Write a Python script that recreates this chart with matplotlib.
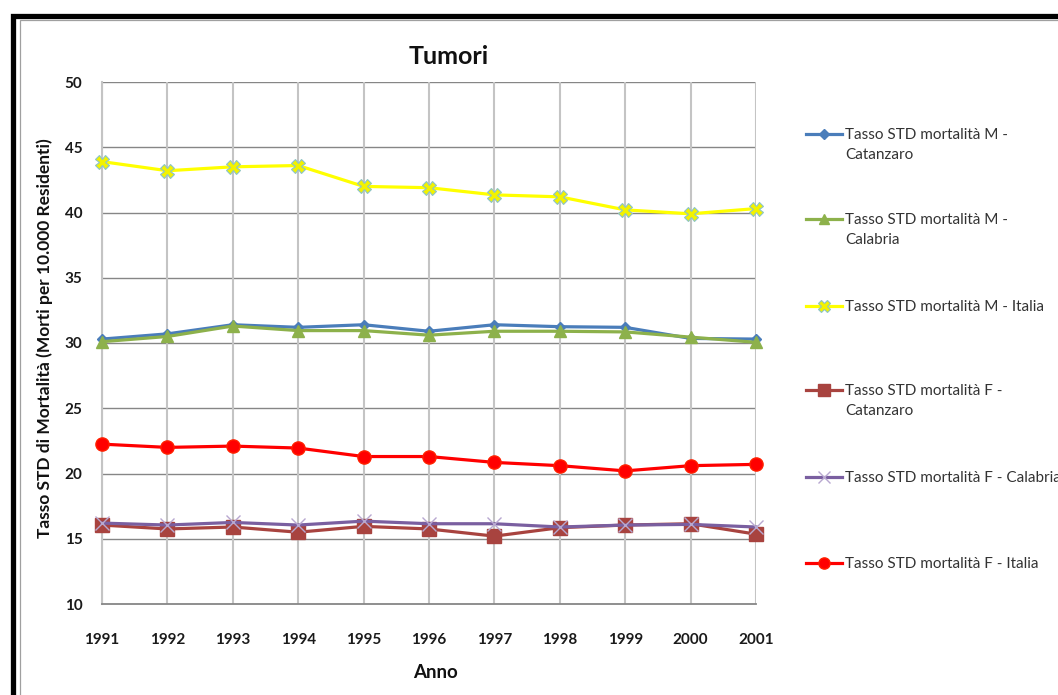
import matplotlib
matplotlib.use("Agg")
import matplotlib.pyplot as plt
from matplotlib.lines import Line2D
from matplotlib.patches import Rectangle

# --- data -------------------------------------------------------------
anni = [1991, 1992, 1993, 1994, 1995, 1996, 1997, 1998, 1999, 2000, 2001]

m_catanzaro = [30.3, 30.7, 31.4, 31.2, 31.4, 30.9, 31.4, 31.25, 31.2, 30.35, 30.3]
m_calabria = [30.1, 30.5, 31.3, 30.95, 30.95, 30.6, 30.9, 30.9, 30.85, 30.45, 30.05]
m_italia = [43.9, 43.2, 43.5, 43.6, 42.0, 41.9, 41.35, 41.2, 40.2, 39.9, 40.3]
f_catanzaro = [16.05, 15.75, 15.9, 15.5, 15.95, 15.75, 15.2, 15.85, 16.05, 16.15, 15.35]
f_calabria = [16.2, 16.05, 16.25, 16.05, 16.35, 16.15, 16.15, 15.9, 16.05, 16.1, 15.9]
f_italia = [22.25, 22.0, 22.1, 21.95, 21.3, 21.3, 20.85, 20.6, 20.2, 20.6, 20.7]

etichette = [
    "Tasso STD mortalità M -\nCatanzaro",
    "Tasso STD mortalità M -\nCalabria",
    "Tasso STD mortalità M - Italia",
    "Tasso STD mortalità F -\nCatanzaro",
    "Tasso STD mortalità F - Calabria",
    "Tasso STD mortalità F - Italia",
]
y_ticks = [10, 15, 20, 25, 30, 35, 40, 45, 50]

# --- styles -----------------------------------------------------------
FONT = ["Lato", "DejaVu Sans"]
plt.rcParams["font.family"] = FONT

stili = [
    dict(color="#4A7DBA", marker="D", ms=5.5, mfc="#4A7DBA", mec="#4A7DBA", lw=2.3),
    dict(color="#8DB14B", marker="^", ms=9, mfc="#8DB14B", mec="#8DB14B", lw=2.3),
    dict(color="#FFFF00", marker="X", ms=10, mfc="#F2F200", mec="#8CC4C8", mew=0.8, lw=2.3),
    dict(color="#A8433F", marker="s", ms=10, mfc="#A8433F", mec="#A8433F", lw=2.3),
    dict(color="#7A5FA0", marker="x", ms=10, mfc="#B8A8D0", mec="#B8A8D0", mew=1.0, lw=2.3),
    dict(color="#FF0000", marker="o", ms=9.5, mfc="#FF0000", mec="#FF2000", lw=2.3),
]
serie = [m_catanzaro, m_calabria, m_italia, f_catanzaro, f_calabria, f_italia]

W, H = 1058, 695
fig = plt.figure(figsize=(W / 100, H / 100), dpi=100)
fig.patch.set_facecolor("white")


def fx(x):
    return x / W


def fy(y):
    return 1 - y / H


ax = fig.add_axes([fx(102), fy(604), fx(756) - fx(102), fy(82) - fy(604)])
ax.set_facecolor("white")

# grid: horizontal lines darker, vertical lines lighter
for v in y_ticks[1:]:
    ax.axhline(v, color="#868686", lw=1.0, zorder=1)
for a in anni:
    ax.axvline(a, color="#C4C4C4", lw=1.5, zorder=1)

for vals, st in zip(serie, stili):
    ax.plot(anni, vals, clip_on=False, zorder=3, solid_joinstyle="round", **st)

ax.set_xlim(anni[0], anni[-1])
ax.set_ylim(y_ticks[0], y_ticks[-1])
ax.set_xticks(anni)
ax.set_xticklabels([str(a) for a in anni], fontsize=11, fontweight="bold", color="#1a1a1a")
ax.set_yticks(y_ticks)
ax.set_yticklabels([str(v) for v in y_ticks], fontsize=11, fontweight="bold", color="#1a1a1a")
ax.tick_params(axis="both", length=0)
ax.tick_params(axis="x", pad=21)
ax.tick_params(axis="y", pad=14)

for side in ("top", "right"):
    ax.spines[side].set_visible(False)
ax.spines["left"].set_color("#C4C4C4")
ax.spines["left"].set_linewidth(1.5)
ax.spines["bottom"].set_color("#868686")
ax.spines["bottom"].set_linewidth(1.3)

# titles
fig.text(fx(449), fy(56), "Tumori", fontsize=18, fontweight="bold", ha="center", va="center",
         color="#111111")
fig.text(fx(45), fy(338), "Tasso STD di Mortalità (Morti per 10.000 Residenti)", rotation=90,
         fontsize=12.5, fontweight="bold", ha="center", va="center", color="#111111")
fig.text(fx(435), fy(672), "Anno", fontsize=13.5, fontweight="bold", ha="center", va="center",
         color="#111111")

# legend on the right, one entry per series
legend_y = [134, 219, 305.5, 390, 476.5, 563]
for lab, st, ly in zip(etichette, stili, legend_y):
    kw = dict(st)
    kw["ms"] = kw["ms"] * 0.85
    h = Line2D([fx(806), fx(842)], [fy(ly), fy(ly)], transform=fig.transFigure,
               markevery=[], **kw)
    fig.add_artist(h)
    m = Line2D([fx(824)], [fy(ly)], transform=fig.transFigure, linestyle="none",
               **{k: v for k, v in kw.items() if k not in ("lw", "color")},
               color=kw["color"])
    fig.add_artist(m)
    for i, riga in enumerate(lab.split("\n")):
        fig.text(fx(845), fy(ly + 5 + i * 20), riga, fontsize=11, ha="left", va="baseline",
                 color="#333333")

# outer frame of the chart box
fig.add_artist(Rectangle((fx(12.5), fy(1200)), fx(2000), fy(15.5) - fy(1200),
                         transform=fig.transFigure, fill=False, ec="black", lw=3.8))
fig.add_artist(Rectangle((fx(19.5), fy(1200)), fx(2000), fy(19.5) - fy(1200),
                         transform=fig.transFigure, fill=False, ec="#A0A0A0", lw=0.9))

fig.savefig("out.png", dpi=100, facecolor="white")
